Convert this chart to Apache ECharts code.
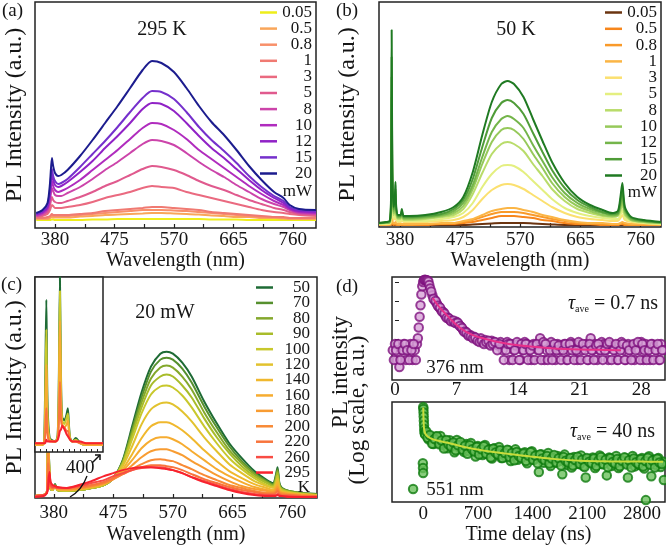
<!DOCTYPE html>
<html><head><meta charset="utf-8">
<script src="https://cdn.jsdelivr.net/npm/echarts@6/dist/echarts.min.js"></script>
<style>html,body{margin:0;padding:0;background:#fff}#c{width:666px;height:546px}</style>
</head><body><div id="c"></div>
<script>
// ---------- Panel (a): 295 K, power series ----------
const wlA = [350,360,368,372,375,377,380,385,390,400,420,440,460,480,500,520,535,550,570,590,610,630,650,670,690,710,730,745,755,770,797];
const powerNames = ['0.05','0.5','0.8','1','3','5','8','10','12','15','20'];
const a005 = [8,8,8,8,8.5,8.5,8,8,8,8,8,8.5,8.5,9,9,9,9,9,9,9,9,8.5,8.5,8.5,8,8,8,8,8,8,8];
const a05 = [9,9,9,10,11,10.5,10.5,10.5,10.5,10.5,11.5,12,13,13.5,14,14.5,15,15,14.5,14,13.5,12.5,12,11,11,10,10,9.5,9,9,9];
const a08 = [10,10,10,11,13,12,12,12,12,12,13,14,15,16,17,18,18,18,17.5,17,16,15,14,13,12,11,11,10,10,10,10];
const a1 = [10,10,11,12,14,13,13,13,13,13,14,15,17,18,19,20,21,21,20,19,18,16,15,14,13,12,11,11,10,10,10];
const a3 = [11,12,14,18,23,22,20,20,20,21,23,26,30,33,36,40,42,41,40,36,33,30,27,24,21,18,16,15,14,13,12];
const a5 = [12,13,16,23,31,28,26,25,25,27,31,36,42,47,53,59,62,61,58,53,47,42,38,33,28,24,20,18,16,14,13];
const a8 = [12,14,18,28,40,37,33,32,32,35,41,49,58,66,75,84,88,87,83,75,66,58,51,43,36,29,24,21,18,15,14];
const a10 = [13,15,20,32,47,42,38,36,37,40,48,58,68,78,89,100,105,104,98,89,78,69,60,51,42,34,27,23,19,16,15];
const a12 = [14,16,21,36,54,48,43,41,42,46,56,67,80,92,105,119,125,124,117,105,92,80,70,59,48,38,30,25,20,17,16];
const a15 = [14,17,23,39,59,52,47,44,45,49,61,74,87,101,116,130,137,136,129,116,101,88,77,65,52,41,32,27,21,18,17];
const a20 = [15,18,25,45,70,62,55,52,53,58,72,88,105,122,140,158,167,165,156,140,122,106,93,78,62,48,36,30,23,19,18];

// ---------- Panel (b): 50 K, power series ----------
const wlB = [347,358,364,366,367,368,370,372,373,374,377,381,383,386,395,420,445,465,480,495,510,525,540,550,560,575,590,605,620,640,660,680,700,715,724,728,731,735,745,765,792];
const b005 = [2,2,2,2,4,2,2,2,2,2,2,2,2,2,2,2,2,2,2,2.5,3,3.5,4,4,4,4,3.5,3,2.5,2,2,2,2,2,2,2,2,2,2,2,2];
const b05 = [2,2,2,3,10,4,2,3,3,2,2,2,2,2,2,2,3,3,4,5,7,9,11,11,11,10,9,7,6,4,3,3,2,2,2,3,3,2,2,2,2];
const b08 = [2,2,2,3,15,5,3,3,4,3,2,2,3,2,2,3,3,4,5,7,10,13,15,15,15,14,12,10,8,6,4,3,3,3,3,3,4,3,2,2,2];
const b1 = [2,2,3,4,20,7,4,4,5,4,3,3,3,3,3,3,4,4,6,8,12,16,18,19,19,17,15,12,10,7,5,4,4,3,3,4,5,4,3,3,2];
const b3 = [3,3,3,8,55,18,7,9,13,7,5,5,6,5,5,5,6,7,10,17,28,37,42,43,42,38,32,26,20,14,10,8,7,6,6,9,12,7,5,4,3];
const b5 = [3,3,4,11,80,25,9,12,18,10,6,6,8,6,6,6,8,10,14,24,40,53,61,62,61,55,46,37,28,19,14,11,9,8,8,12,17,9,6,4,3];
const b8 = [3,4,4,15,110,34,12,16,25,13,8,8,11,7,7,8,10,12,18,33,54,73,83,85,83,76,63,51,38,26,18,14,11,10,11,16,24,12,7,5,4];
const b10 = [4,4,5,18,130,40,14,19,29,15,9,9,13,8,8,9,11,14,21,38,63,85,97,99,97,88,73,59,44,30,21,16,12,11,12,19,28,14,7,5,4];
const b12 = [4,4,5,22,150,46,16,22,33,17,10,10,14,9,9,10,12,16,24,42,70,95,108,111,108,99,82,66,50,34,24,18,14,12,13,22,32,16,8,6,4];
const b15 = [4,5,6,26,170,52,18,26,38,19,11,11,16,10,10,11,13,18,27,48,80,109,124,127,124,113,94,75,57,39,27,20,15,13,14,26,38,18,9,6,5];
const b20 = [4,5,6,30,197,60,20,30,45,22,12,12,18,11,11,12,15,20,30,55,92,125,143,146,143,130,108,86,65,44,30,22,17,14,16,30,44,20,10,7,5];

// ---------- Panel (c): 20 mW, temperature series ----------
const wlC = [350,364,369,371,373,375,378,382,386,400,420,440,460,475,490,505,520,535,550,560,570,585,600,620,640,660,680,700,720,730,734,737,740,744,755,775,800];
const tempNames = ['50','70','80','90','100','120','140','160','180','200','220','260','295'];
const c50 = [2,3,6,78,25,9,8,14,8, 7,8,10,13,20,38,72,106,132,145,147,145,136,122,97,75,55,40,27,18,15,22,31,15,10,7,5,4];
const c70 = [2,3,6,77,24,9,8,13,8, 7,8,10,13,20,37,69,101,127,139,141,139,130,116,92,71,52,37,25,17,14,20,29,14,10,7,5,4];
const c80 = [2,3,6,76,23,9,8,13,8, 7,8,10,13,20,36,66,96,120,131,133,131,122,109,86,66,48,35,24,16,13,19,27,13,9,7,5,3];
const c90 = [2,3,6,75,22,9,8,12,8, 7,8,10,13,20,35,63,91,113,122,124,122,113,101,80,61,45,32,22,15,12,17,25,12,9,6,4,3];
const c100 = [2,3,6,74,22,9,8,12,8, 7,8,10,13,20,34,59,85,104,112,113,111,103,91,72,55,40,29,20,13,11,15,22,11,8,6,4,3];
const c120 = [2,3,6,72,21,10,8,12,8, 8,9,11,14,20,32,52,74,89,95,96,94,87,77,61,47,34,25,17,12,10,13,19,10,7,5,4,3];
const c140 = [2,3,6,68,20,10,9,11,9, 8,9,11,14,20,29,44,60,72,76,76,74,68,60,48,37,27,20,14,10,8,11,16,8,6,5,3,2];
const c160 = [2,3,6,62,20,10,9,11,9, 8,9,11,14,19,27,38,50,58,61,61,59,54,47,38,29,22,16,11,8,7,9,13,7,5,4,3,2];
const c180 = [2,3,6,55,20,11,9,11,9, 9,10,12,15,19,25,33,41,47,49,49,47,43,37,30,23,17,12,9,7,6,8,11,6,5,4,3,2];
const c200 = [2,3,6,45,21,11,10,11,10, 9,10,12,15,19,24,29,34,38,39,38,37,33,29,23,18,13,10,7,5,5,6,9,5,4,3,2,2];
const c220 = [2,3,6,35,22,12,10,11,10, 10,11,13,16,20,24,28,31,33,33,32,31,28,24,19,15,11,8,6,4,4,5,7,4,3,3,2,2];
const c260 = [2,3,5,20,24,14,11,11,10, 10,12,15,18,22,25,28,30,31,31,30,28,25,21,17,13,9,6,4,3,3,3,4,3,2,2,1,1];
const c295 = [1,2,5,10,26,16,13,12,11, 10,13,17,22,25,28,30,31,31,30,29,28,25,21,16,12,8,5,3,2,2,2,3,2,2,1,1,1];

// inset of (c)
const wlIn = [360,366,368,369,370,371,373,378,380,381,382,383,384,386,388,389,390,391,393,396,400,405,410,420];
const inNames = ['50','100','160','220','295'];
const in50 = [4,4,6,40,87,30,8,6,10,40,100,40,20,18,22,25,15,8,6,8,5,4,4,4];
const in100 = [4,4,5,30,70,22,7,6,9,35,92,35,18,16,20,22,13,8,6,7,5,4,4,4];
const in160 = [4,4,5,20,50,16,7,6,8,28,75,28,16,14,16,18,11,7,6,6,5,4,4,4];
const in220 = [5,5,5,10,25,10,6,6,7,16,40,18,15,14,12,12,9,7,6,6,5,5,5,5];
const in295 = [5,5,5,5,7,6,6,6,7,9,12,13,15,13,10,9,8,7,6,6,6,5,5,5];

// ---------- Panel (d): decays ----------
const tTop = [-0.25,0,0.25,0.5,0.75,1,1.25,1.5,1.75,2,2.25,2.5,
 2.6,2.7,2.8,2.9,3,3.1,3.2,3.3,3.4,3.5,3.6,3.7,3.8,3.9,4,
 4.25,4.5,4.75,5,5.25,5.5,5.75,6,6.25,6.5,6.75,7,7.25,7.5,7.75,8,8.25,8.5,8.75,9,9.25,9.5,9.75,10,10.25,10.5,10.75,11,11.25,11.5,11.75,12,
 12.25,12.5,12.75,13,13.25,13.5,13.75,14,14.25,14.5,14.75,15,15.25,15.5,15.75,16,16.25,16.5,16.75,17,17.25,17.5,17.75,18,18.25,18.5,18.75,19,19.25,19.5,19.75,20,
 20.25,20.5,20.75,21,21.25,21.5,21.75,22,22.25,22.5,22.75,23,23.25,23.5,23.75,24,24.25,24.5,24.75,25,25.25,25.5,25.75,26,26.25,26.5,26.75,27,27.25,27.5,27.75,28,28.25,28.5,28.75,29,29.25,29.5,29.75,30,30.25,30.5,
 -0.125,0.125,0.375,0.625,0.875,1.125,1.375,1.625,1.875,2.125,2.375,
 4.125,4.375,4.625,4.875,5.125,5.375,5.625,5.875,6.125,6.375,6.625,6.875,7.125,7.375,7.625,7.875,8.125,8.375,8.625,8.875,9.125,9.375,9.625,9.875,10.125,10.375,10.625,10.875,11.125,11.375,11.625,11.875,
 12.375,12.625,12.875,13.125,13.375,13.625,13.875,14.125,14.375,14.625,
 14.875,15.125,15.375,15.625,15.875,16.125,16.375,16.625,16.875,17.125,
 17.375,17.625,17.875,18.125,18.375,18.625,18.875,19.125,19.375,19.625,
 19.875,20.125,20.375,20.625,20.875,21.125,21.375,21.625,21.875,22.125,
 22.375,22.625,22.875,23.125,23.375,23.625,23.875,24.125,24.375,24.625,
 24.875,25.125,25.375,25.625,25.875,26.125,26.375,26.625,26.875,27.125,
 27.375,27.625,27.875,28.125,28.375,28.625,28.875,29.125,29.375,29.625,
 29.875,30.125,30.375];
const vTop = [2.6,5.5,0.8,0.34,2.6,5.5,0.8,2.6,5.5,0.8,2.6,5.5,
 11,40,150,600,2200,6000,10000,12600,13000,12600,12500,12000,10500,7000,4500,
 2000,1100,750,480,330,260,160,135,100,88,78,80,58,44,30,25,18,17,13,13,10,9,11,7,9,6.9,5.5,8,6.9,5.5,4.5,6.9,
 2.6,5.5,6.9,0.8,5.5,2.6,4.5,5.5,0.8,2.6,
 6.9,5.5,2.6,0.8,5.5,4.5,2.6,11,5.5,0.8,
 2.6,5.5,6.9,2.6,0.8,5.5,2.6,4.5,5.5,0.8,
 2.6,6.9,5.5,2.6,0.8,5.5,2.6,4.5,5.5,0.8,
 11,2.6,5.5,0.8,2.6,6.9,5.5,2.6,0.8,5.5,
 4.5,2.6,0.8,5.5,6.9,2.6,0.8,5.5,2.6,4.5,
 0.8,5.5,2.6,6.9,0.8,5.5,2.6,0.8,5.5,4.5,
 2.6,0.8,5.5,2.6,
 0.8,2.6,5.5,0.8,2.6,5.5,2.6,0.8,2.6,5.5,0.8,
 3200,1300,1000,560,450,270,220,130,120,85,95,70,72,48,38,24,22,15,14,11,12,8,7,8,5.5,6.9,8,4.5,5.5,6.9,2.6,5.5,
 0.8,2.6,5.5,5.5,0.8,2.6,6.9,0.8,5.5,2.6,
 5.5,0.8,2.6,4.5,0.8,5.5,2.6,0.8,6.9,5.5,
 0.8,2.6,0.8,5.5,2.6,4.5,0.8,2.6,5.5,0.8,
 5.5,2.6,0.8,2.6,6.9,0.8,5.5,2.6,0.8,5.5,
 2.6,0.8,4.5,5.5,2.6,0.8,2.6,5.5,6.9,0.8,
 2.6,5.5,0.8,2.6,5.5,0.8,4.5,2.6,0.8,5.5,
 2.6,6.9,0.8,5.5,2.6,0.8,2.6,5.5,0.8,2.6,
 5.5,0.8,2.6];
const tFitTop = [4.3,5,6,7,8,9,10,12,14,17,20,23,25.7];
const vFitTop = [1450,500,160,55,25,15,11,6.5,4.7,3.5,2.9,2.7,2.6];

const tBot = [-130,-5,-3,-1,0,2,4,6,8,10,13,16,20,25,
 40,70,100,130,160,190,220,250,280,310,
 340,370,400,430,460,490,520,550,580,610,
 640,670,700,730,760,790,820,850,880,910,
 940,970,1000,1030,1060,1090,1120,1150,1180,1210,
 1240,1270,1300,1330,1360,1390,1420,1450,1480,1510,
 1540,1570,1600,1630,1660,1690,1720,1750,1780,1810,
 1840,1870,1900,1930,1960,1990,2020,2050,2080,2110,
 2140,2170,2200,2230,2260,2290,2320,2350,2380,2410,
 2440,2470,2500,2530,2560,2590,2620,2650,2680,2710,
 2740,2770,2800,2830,2850,2860,2890,2920,2950,2980,
 3010,3040,3070,3080,
 55,85,115,145,175,205,235,265,295,325,
 355,385,415,445,475,505,535,565,595,625,
 655,685,715,745,775,805,835,865,895,925,
 955,985,1015,1045,1075,1105,1135,1165,1195,1225,
 1255,1285,1315,1345,1375,1405,1435,1465,1495,1525,
 1555,1585,1615,1645,1675,1705,1735,1765,1795,1825,
 1855,1885,1915,1945,1975,2005,2035,2065,2095,2125,
 2155,2185,2215,2245,2275,2305,2335,2365,2395,2425,
 2455,2485,2515,2545,2575,2605,2635,2665,2695,2725,
 2755,2785,2815,2845,2875,2905,2935,2965,2995,3025,
 3055];
const vBot = [2.6,17,12,8.3,1040,900,700,520,380,280,210,170,150,140,
 175,96,121,69,120,78,125,63,87,51,
 91,67,38,93,54,67,39,70,42,75,
 43,28,60,45,31,65,34,47,24,51,
 34,56,25,40,27,44,20,32,47,22,
 35,27,38,17,28,41,22,30,9,33,
 17.5,24.5,36,14,26,18,29,20,7.6,32,
 15,24,12.5,27,20,16,30,14,6,23,
 18,26,12,20,30,16,23,7,26,14,
 20,29,12,22,18,25,6,19,29,13.5,
 22,15,25,11.5,1.15,19,28.5,6.6,22,15,
 25,13,19,5,
 109,134,71,100,122,68,89,50,93,67,
 58,78,44,64,80,46,61,34,64,47,
 40,56,32,47,59,34,46,26,49,37,
 32,44,25,36,46,27,36,21,39,29,
 25,35,20,30,38,22,29.5,17,32,24,
 21,29,16.7,24,31,18,24.4,14.3,27,20.3,
 18,25,14.5,21.5,27.4,16,22,13,25,19,
 17,24,14,21,27,15.8,21.8,12.8,24.6,18.6,
 16.7,23.4,13.7,20.5,26.2,15.5,21.2,12.5,24,18.2,
 16.2,23,13.3,20,25.6,15.2,20.9,12.4,23.8,18,
 16.2];
const tFitBot = [0,4,10,25,60,130,250,350,500,730,1000,1370,1700,2010,2400,2800,3070];
const vFitBot = [1000,400,220,150,118,97,82,72,58,45,36,28,23,20.5,19.5,19.2,19];

// tick labels
const wlTicks = [380,475,570,665,760];
const wlMinor = [380,427.5,475,522.5,570,617.5,665,712.5,760];
const tTopTicks = [0,7,14,21,28];
const tBotTicks = [0,700,1400,2100,2800];

// ---------- styles ----------
const FONT = "'Liberation Serif','Times New Roman',serif";
const INK = '#151515';
const colA = ['#eeee1a','#f9a65a','#f8906a','#f07a72','#ea6a80','#e05a8e','#cc44aa','#b02cbe','#9022c6','#7530cc','#1c1c8e'];
const colB = ['#6b3410','#f7861c','#f99a2a','#fbb545','#fbe070','#e4ef80','#b9dc6a','#96c95a','#74b54a','#4f9c38','#1f7a22'];
const colC = ['#1e6b35','#56902e','#84a82c','#a8bc2a','#c8c82c','#e2c22e','#f0b82e','#f6ac30','#f89c32','#f88a36','#f8743c','#f84c44','#f8222e'];
const colIn = ['#1e6b35','#c8c82c','#f6ac30','#f8743c','#f8222e'];

const seriesA = [a005,a05,a08,a1,a3,a5,a8,a10,a12,a15,a20];
const seriesB = [b005,b05,b08,b1,b3,b5,b8,b10,b12,b15,b20];
const seriesC = [c50,c70,c80,c90,c100,c120,c140,c160,c180,c200,c220,c260,c295];
const seriesIn = [in50,in100,in160,in220,in295];

function pairs(xs, ys){ return xs.map((x,i)=>[x, ys[i]]); }
function lines(prefix, names, cols, xs, arrs, idx, z){
  return names.map((n,k)=>({
    name: prefix + ':' + n, type: 'line', xAxisIndex: idx, yAxisIndex: idx,
    data: pairs(xs, arrs[k]), showSymbol: false, smooth: 0.25, z: z,
    lineStyle: {color: cols[k], width: 2}, itemStyle: {color: cols[k]}, silent: true
  }));
}

const series = [].concat(
  lines('a', powerNames, colA, wlA, seriesA, 0, 2),
  lines('b', powerNames, colB, wlB, seriesB, 1, 2),
  lines('c', tempNames, colC, wlC, seriesC, 2, 2),
  lines('i', inNames, colIn, wlIn, seriesIn, 3, 12),
  [
    {name:'dtop', type:'scatter', xAxisIndex:4, yAxisIndex:4, data: pairs(tTop, vTop), symbolSize: 8.5,
     itemStyle:{color:'#d7a2d7', borderColor:'#7e127e', borderWidth:2}, silent:true},
    {name:'dtopfit', type:'line', xAxisIndex:4, yAxisIndex:4, data: pairs(tFitTop, vFitTop), showSymbol:false, smooth:0.4,
     lineStyle:{color:'#e8308a', width:2}, z:3, silent:true},
    {name:'dbot', type:'scatter', xAxisIndex:5, yAxisIndex:5, data: pairs(tBot, vBot), symbolSize: 8.5,
     itemStyle:{color:'#6cc05c', borderColor:'#0e7a0e', borderWidth:2}, silent:true},
    {name:'dbotfit', type:'line', xAxisIndex:5, yAxisIndex:5, data: pairs(tFitBot, vFitBot), showSymbol:false, smooth:0.4,
     lineStyle:{color:'#c8dc3c', width:2}, z:3, silent:true}
  ]
);

const plainNum = v => String(v);
const gridBase = {show:true, borderColor:'#222', borderWidth:1.5, backgroundColor:'transparent'};
function wlX(idx, min, max, gap, margin){
  return {gridIndex: idx, type:'value', min:min, max:max,
    axisLine:{show:false}, splitLine:{show:false},
    axisTick:{show:true, inside:true, length:4, customValues: wlMinor, lineStyle:{color:'#222', width:1.2}},
    axisLabel:{customValues: wlTicks, formatter: plainNum, fontSize:19, color:INK, fontFamily:FONT, margin: margin},
    name:'Wavelength (nm)', nameLocation:'middle', nameGap: gap,
    nameTextStyle:{fontSize:20, color:INK, fontFamily:FONT}};
}
function plainY(idx, max, gap){
  return {gridIndex: idx, type:'value', min:0, max:max, axisLine:{show:false}, axisTick:{show:false},
    axisLabel:{show:false}, splitLine:{show:false},
    name:'PL Intensity (a.u.)', nameLocation:'middle', nameGap: gap,
    nameTextStyle:{fontSize:24, color:INK, fontFamily:FONT}};
}
function legendFor(prefix, names, left, top, gap, w){
  return {data: names.map(n=>prefix+':'+n), left:left, top:top, orient:'vertical', icon:'rect',
    itemWidth:17, itemHeight:2.5, itemGap:gap, padding:0, selectedMode:false,
    formatter: n => '{r|' + n.split(':')[1] + '}',
    textStyle:{rich:{r:{width:w, align:'right', fontSize:17, fontFamily:FONT, color:INK}}}};
}
function txt(x, y, s, size, align, extra){
  return Object.assign({type:'text', x:x, y:y, z:30, style:{text:s, fontSize:size, fontFamily:FONT, fill:INK,
    align: align || 'center', verticalAlign:'middle'}}, extra || {});
}
const tauRich = {t:{fontSize:20, fontStyle:'italic', fontFamily:FONT, fill:INK},
  s:{fontSize:10, fontFamily:FONT, fill:INK, padding:[10,0,0,0]}, n:{fontSize:20, fontFamily:FONT, fill:INK}};

const option = {
  animation:false, backgroundColor:'#fff',
  textStyle:{fontFamily:FONT, color:INK},
  grid:[
    Object.assign({left:35, top:2, width:281, height:226}, gridBase),
    Object.assign({left:379, top:2, width:282, height:225}, gridBase),
    Object.assign({left:35, top:277, width:282, height:222}, gridBase),
    Object.assign({}, gridBase, {left:35, top:277, width:68, height:175, backgroundColor:'#fff', z:10}),
    Object.assign({left:392, top:277, width:273, height:103}, gridBase),
    Object.assign({left:392, top:402, width:273, height:100}, gridBase)
  ],
  xAxis:[
    wlX(0, 348, 797, 21, 3),
    wlX(1, 347, 792, 23, 4),
    wlX(2, 350, 800, 27, 6),
    {gridIndex:3, type:'value', min:360, max:420, z:11, axisLine:{show:false}, splitLine:{show:false},
     axisTick:{inside:true, length:3, customValues:[365,370,375,380,385,390,395,400,405,410,415], lineStyle:{color:'#222'}},
     axisLabel:{customValues:[400], formatter: plainNum, fontSize:19, color:INK, fontFamily:FONT, margin:7}},
    {gridIndex:4, type:'value', min:-0.34, max:30.7, axisLine:{show:false}, splitLine:{show:false}, axisTick:{show:false},
     axisLabel:{customValues: tTopTicks, formatter: plainNum, fontSize:19, color:INK, fontFamily:FONT, margin:1}},
    {gridIndex:5, type:'value', min:-400, max:3095, axisLine:{show:false}, splitLine:{show:false}, axisTick:{show:false},
     axisLabel:{customValues: tBotTicks, formatter: plainNum, fontSize:19, color:INK, fontFamily:FONT, margin:3},
     name:'Time delay (ns)', nameLocation:'middle', nameGap:23, nameTextStyle:{fontSize:20, color:INK, fontFamily:FONT}}
  ],
  yAxis:[
    plainY(0, 226, 8),
    plainY(1, 225, 19),
    plainY(2, 222, 8),
    {gridIndex:3, type:'value', min:0, max:100, z:11, axisLine:{show:false}, axisTick:{show:false}, axisLabel:{show:false}, splitLine:{show:false}},
    {gridIndex:4, type:'log', min:0.07, max:18300, axisLine:{show:false}, splitLine:{show:false}, axisLabel:{show:false},
     axisTick:{inside:true, length:4, customValues:[1,10,100,1000,10000], lineStyle:{color:'#222'}}},
    {gridIndex:5, type:'log', min:1, max:1500, axisLine:{show:false}, splitLine:{show:false}, axisLabel:{show:false},
     axisTick:{inside:true, length:4, customValues:[10,100,1000], lineStyle:{color:'#222'}}}
  ],
  legend:[
    legendFor('a', powerNames, 260, 4, -0.9, 30),
    legendFor('b', powerNames, 605, 4, -0.7, 30),
    legendFor('c', tempNames, 256, 279, -1.58, 32)
  ],
  graphic:[
    txt(2, 11, '(a)', 19, 'left'),
    txt(336, 11, '(b)', 19, 'left'),
    txt(1, 285, '(c)', 19, 'left'),
    txt(336, 287, '(d)', 19, 'left'),
    txt(162, 30, '295 K', 20),
    txt(516, 30, '50 K', 20),
    txt(165, 313, '20 mW', 20),
    txt(312, 192, 'mW', 17, 'right'),
    txt(657, 193, 'mW', 17, 'right'),
    txt(310, 488, 'K', 17, 'right'),
    {type:'text', x:658, y:304, z:30, style:{text:'{t|τ}{s|ave}{n| = 0.7 ns}', align:'right', verticalAlign:'middle', rich: tauRich}},
    {type:'text', x:655, y:432, z:30, style:{text:'{t|τ}{s|ave}{n| = 40 ns}', align:'right', verticalAlign:'middle', rich: tauRich}},
    txt(455, 368, '376 nm', 19),
    txt(455, 490, '551 nm', 19),
    txt(341, 372, 'PL intensity', 23, 'center', {rotation: Math.PI/2}),
    txt(358, 410, '(Log scale, a.u.)', 23, 'center', {rotation: Math.PI/2}),
    {type:'bezierCurve', z:30, shape:{x1:87, y1:476, x2:70, y2:497, cpx1:82, cpy1:490}, style:{stroke:'#111', lineWidth:1.3, fill:null}},
    {type:'line', z:30, shape:{x1:92, y1:463, x2:100, y2:455}, style:{stroke:'#111', lineWidth:1.5}},
    {type:'polyline', z:30, shape:{points:[[95,455],[100,455],[100,460]]}, style:{stroke:'#111', lineWidth:1.5, fill:null}}
  ],
  series: series
};

const chart = echarts.init(document.getElementById('c'), null, {renderer:'canvas'});
chart.setOption(option);
</script></body></html>
